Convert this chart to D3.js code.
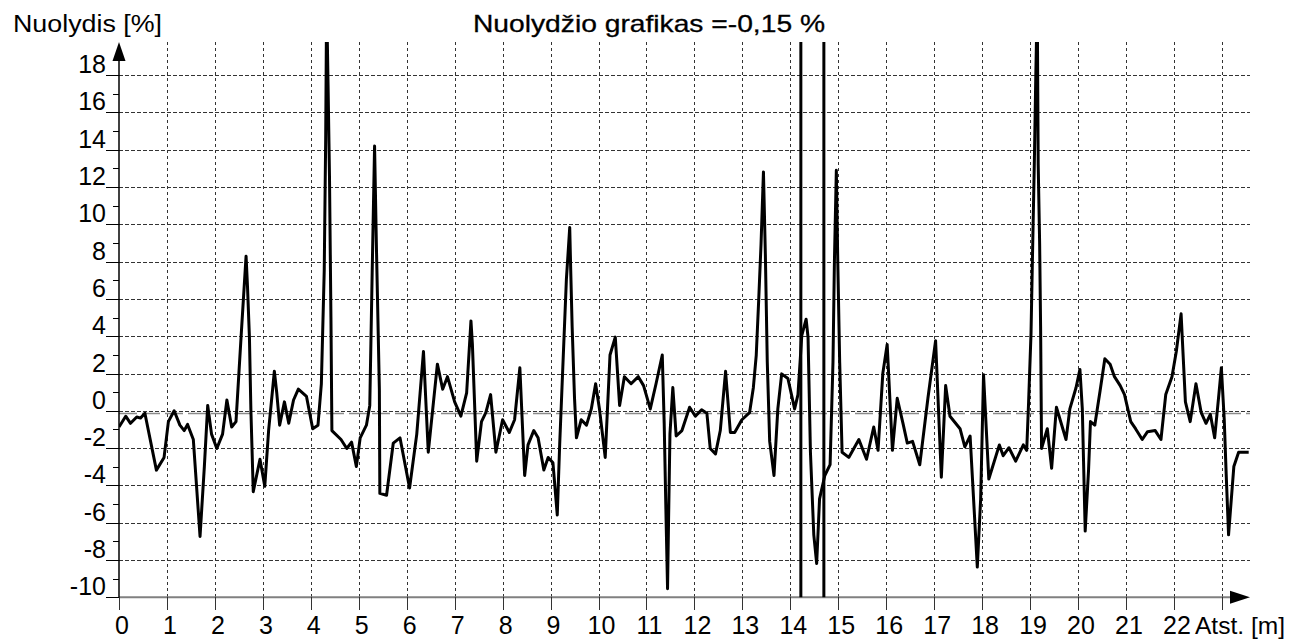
<!DOCTYPE html>
<html>
<head>
<meta charset="utf-8">
<script src="https://cdn.jsdelivr.net/npm/d3@7"></script>
<style>
  html, body { margin: 0; padding: 0; background: #fff; }
  svg { display: block; }
  text { font-family: "Liberation Sans", Arial, sans-serif; fill: #000; }
</style>
</head>
<body>
<svg id="chart" width="1289" height="639"></svg>
<script>
// ---- data ----
const chartTitle = "Nuolydžio grafikas =-0,15 %";
const yAxisName = "Nuolydis [%]";
const xAxisName = "Atst. [m]";
const meanSlope = -0.15;
const markerPositions = [14.22, 14.70];
const xTickValues = d3.range(0, 23);          // 0 .. 22 labelled
const yTickValues = [-10, -8, -6, -4, -2, 0, 2, 4, 6, 8, 10, 12, 14, 16, 18];

const distance = [
  0.00,0.14,0.24,0.37,0.45,0.54,0.78,0.94,1.03,1.15,1.27,1.36,1.43,1.55,1.69,1.78,1.85,1.93,2.04,2.16,
  2.25,2.35,2.44,2.55,2.65,2.68,2.72,2.75,2.80,2.94,3.04,3.12,3.24,3.29,3.35,3.45,3.54,3.64,3.74,3.91,
  4.04,4.15,4.22,4.28,4.31,4.33,4.36,4.39,4.42,4.44,4.63,4.75,4.85,4.95,5.03,5.16,5.23,5.28,5.33,5.37,
  5.43,5.44,5.58,5.72,5.86,6.06,6.21,6.35,6.45,6.64,6.75,6.85,7.00,7.13,7.25,7.34,7.37,7.46,7.56,7.65,
  7.75,7.86,8.00,8.14,8.25,8.36,8.46,8.53,8.65,8.74,8.86,8.95,9.05,9.14,9.19,9.26,9.33,9.40,9.42,9.45,
  9.50,9.54,9.64,9.75,9.85,9.94,10.02,10.14,10.24,10.35,10.44,10.54,10.68,10.83,10.94,11.08,11.20,11.33,11.37,11.41,
  11.44,11.46,11.49,11.55,11.62,11.74,11.90,12.02,12.15,12.26,12.33,12.44,12.54,12.65,12.75,12.84,12.99,13.15,13.23,13.29,
  13.34,13.39,13.44,13.48,13.52,13.57,13.66,13.74,13.82,13.95,14.09,14.16,14.24,14.33,14.37,14.42,14.49,14.55,14.61,14.72,
  14.83,14.89,14.92,14.96,14.99,15.03,15.08,15.22,15.43,15.59,15.74,15.83,15.93,16.02,16.13,16.23,16.35,16.44,16.55,16.70,
  16.87,17.03,17.15,17.24,17.33,17.54,17.64,17.75,17.90,17.97,18.03,18.14,18.36,18.44,18.56,18.70,18.86,18.93,18.97,19.02,
  19.05,19.09,19.12,19.15,19.17,19.20,19.22,19.24,19.36,19.45,19.55,19.75,19.83,19.96,20.04,20.09,20.15,20.22,20.26,20.35,
  20.46,20.56,20.67,20.76,20.88,20.97,21.10,21.20,21.34,21.45,21.61,21.73,21.83,21.96,22.05,22.15,22.24,22.34,22.46,22.57,
  22.67,22.76,22.85,22.93,22.99,23.05,23.09,23.14,23.25,23.35,23.56
];
const slope = [
  -0.87,-0.29,-0.67,-0.33,-0.39,-0.13,-3.18,-2.50,-0.58,0.00,-0.77,-1.06,-0.73,-1.54,-6.74,-2.99,0.29,-1.25,-2.02,-1.25,
  0.58,-0.87,-0.58,4.14,8.29,6.65,3.95,0.10,-4.34,-2.60,-4.05,-1.06,2.12,0.96,-0.77,0.48,-0.67,0.58,1.16,0.77,
  -0.96,-0.77,1.45,7.50,14.50,22.00,17.50,12.50,5.00,-1.06,-1.54,-2.02,-1.68,-2.99,-1.45,-0.77,0.29,7.40,14.20,8.60,
  1.16,-4.43,-4.53,-1.73,-1.45,-4.14,-1.25,3.18,-2.22,2.50,1.16,1.83,0.48,-0.29,0.96,4.82,3.56,-2.70,-0.58,-0.10,
  0.87,-2.22,-0.48,-1.16,-0.48,2.31,-3.47,-1.83,-1.06,-1.45,-3.18,-2.50,-2.79,-5.59,-1.83,2.60,7.03,9.83,7.60,4.53,
  0.67,-1.45,-0.48,-0.77,0.10,1.45,0.10,-2.50,2.99,3.95,0.29,1.83,1.45,1.83,1.35,0.10,1.45,2.99,-0.67,-5.88,
  -9.54,-6.07,-1.25,1.25,-1.35,-1.06,0.19,-0.29,0.06,-0.13,-2.02,-2.31,-1.06,2.12,-1.16,-1.16,-0.48,-0.10,1.25,2.99,
  5.88,8.96,12.81,8.38,2.60,-1.64,-3.47,0.10,1.98,1.73,0.10,0.87,4.05,4.91,3.95,-2.22,-6.65,-8.19,-4.72,-3.47,
  -2.89,2.60,8.00,12.90,8.00,2.60,-2.22,-2.50,-1.54,-2.60,-0.87,-2.12,2.02,3.56,-2.12,0.67,-0.67,-1.73,-1.64,-2.89,
  0.67,3.76,-3.56,1.35,-0.29,-0.96,-1.93,-1.35,-8.38,-4.72,1.93,-3.66,-1.83,-2.41,-1.98,-2.70,-1.83,-2.12,0.48,4.14,
  8.19,13.39,18.00,22.00,13.20,8.96,4.53,-2.02,-0.96,-3.08,0.19,-1.54,0.10,1.25,2.22,0.10,-6.45,-3.18,-0.58,-0.77,
  1.06,2.79,2.50,1.83,1.35,0.87,-0.58,-0.96,-1.54,-1.12,-1.06,-1.54,0.87,1.83,3.18,5.20,0.48,-0.58,1.45,-0.10,
  -0.67,-0.19,-1.45,0.67,2.31,-0.48,-3.37,-6.65,-2.99,-2.22,-2.22
];

// ---- layout ----
const svg = d3.select("#chart");
const pLeft = 119, pBottom = 597.3, pTop = 42, pRight = 1250;
const x = d3.scaleLinear().domain([0, 23]).range([pLeft, pLeft + 47.95 * 23]);
const y = d3.scaleLinear().domain([-10, 18]).range([pBottom, pBottom - 18.65 * 28]);
const snap = v => Math.round(v) + 0.5;

svg.append("defs").append("clipPath").attr("id", "plotClip")
  .append("rect").attr("x", pLeft).attr("y", pTop).attr("width", pRight - pLeft).attr("height", pBottom - pTop);

// grid - vertical
const grid = svg.append("g");
grid.selectAll("line.vg").data(d3.range(1, 24)).join("line")
  .attr("class", "vg")
  .attr("x1", d => snap(x(d))).attr("x2", d => snap(x(d)))
  .attr("y1", pTop).attr("y2", pBottom)
  .attr("stroke", "#333").attr("stroke-width", 1).attr("stroke-dasharray", "3,3")
  .attr("shape-rendering", "crispEdges");
// grid - horizontal
grid.selectAll("line.hg").data(yTickValues.filter(v => v > -10)).join("line")
  .attr("class", "hg")
  .attr("x1", pLeft).attr("x2", pRight)
  .attr("y1", d => snap(y(d))).attr("y2", d => snap(y(d)))
  .attr("stroke", "#333").attr("stroke-width", 1).attr("stroke-dasharray", "4,2")
  .attr("shape-rendering", "crispEdges");

// mean line
svg.append("line")
  .attr("x1", pLeft).attr("x2", pRight)
  .attr("y1", y(meanSlope)).attr("y2", y(meanSlope))
  .attr("stroke", "#8a8a8a").attr("stroke-width", 1.5).attr("stroke-dasharray", "18,5");

// x axis line & ticks
svg.append("line").attr("x1", pLeft).attr("x2", pRight - 10).attr("y1", pBottom).attr("y2", pBottom)
  .attr("stroke", "#808080").attr("stroke-width", 2);
svg.selectAll("line.xt").data(d3.range(0, 24)).join("line")
  .attr("class", "xt")
  .attr("x1", d => snap(x(d))).attr("x2", d => snap(x(d)))
  .attr("y1", pBottom).attr("y2", pBottom + 13)
  .attr("stroke", "#333").attr("stroke-width", 1).attr("shape-rendering", "crispEdges");
svg.append("path")
  .attr("d", `M${pRight},${pBottom} L${pRight - 20},${pBottom - 6.5} L${pRight - 20},${pBottom + 6.5} Z`)
  .attr("fill", "#000");

// y axis line & ticks
svg.append("line").attr("x1", pLeft).attr("x2", pLeft).attr("y1", pTop + 4).attr("y2", pBottom)
  .attr("stroke", "#000").attr("stroke-width", 1.5);
svg.selectAll("line.ytM").data(yTickValues).join("line")
  .attr("class", "ytM")
  .attr("x1", pLeft - 13).attr("x2", pLeft)
  .attr("y1", d => snap(y(d))).attr("y2", d => snap(y(d)))
  .attr("stroke", "#000").attr("stroke-width", 1).attr("shape-rendering", "crispEdges");
svg.selectAll("line.ytm").data(d3.range(-9, 19, 2)).join("line")
  .attr("class", "ytm")
  .attr("x1", pLeft - 6).attr("x2", pLeft)
  .attr("y1", d => snap(y(d))).attr("y2", d => snap(y(d)))
  .attr("stroke", "#000").attr("stroke-width", 1).attr("shape-rendering", "crispEdges");
svg.append("path")
  .attr("d", `M${pLeft},${pTop} L${pLeft - 6.5},${pTop + 19} L${pLeft + 6.5},${pTop + 19} Z`)
  .attr("fill", "#000");

// tick labels
svg.selectAll("text.yl").data(yTickValues).join("text")
  .attr("class", "yl")
  .attr("x", 106).attr("y", d => y(d) - 2)
  .attr("text-anchor", "end").attr("font-size", 25)
  .text(d => String(d));
svg.selectAll("text.xl").data(xTickValues).join("text")
  .attr("class", "xl")
  .attr("x", d => x(d) + 3).attr("y", 634)
  .attr("text-anchor", "middle").attr("font-size", 25)
  .text(d => String(d));

// names
svg.append("text").attr("x", 13).attr("y", 32).attr("font-size", 23)
  .attr("textLength", 149).attr("lengthAdjust", "spacingAndGlyphs").text(yAxisName);
svg.append("text").attr("x", 1195).attr("y", 634).attr("font-size", 24)
  .attr("textLength", 90).attr("lengthAdjust", "spacingAndGlyphs").text(xAxisName);
svg.append("text").attr("x", 473).attr("y", 32).attr("font-size", 24)
  .attr("stroke", "#000").attr("stroke-width", 0.3)
  .attr("textLength", 352).attr("lengthAdjust", "spacingAndGlyphs").text(chartTitle);

// marker lines
svg.selectAll("line.mk").data(markerPositions).join("line")
  .attr("class", "mk")
  .attr("x1", d => x(d)).attr("x2", d => x(d))
  .attr("y1", pTop).attr("y2", pBottom)
  .attr("stroke", "#000").attr("stroke-width", 3);

// data line
const pts = distance.map((d, i) => [d, slope[i]]);
svg.append("path")
  .datum(pts)
  .attr("clip-path", "url(#plotClip)")
  .attr("fill", "none").attr("stroke", "#000").attr("stroke-width", 3)
  .attr("stroke-linejoin", "round")
  .attr("d", d3.line().x(d => x(d[0])).y(d => y(d[1])));
</script>
</body>
</html>
